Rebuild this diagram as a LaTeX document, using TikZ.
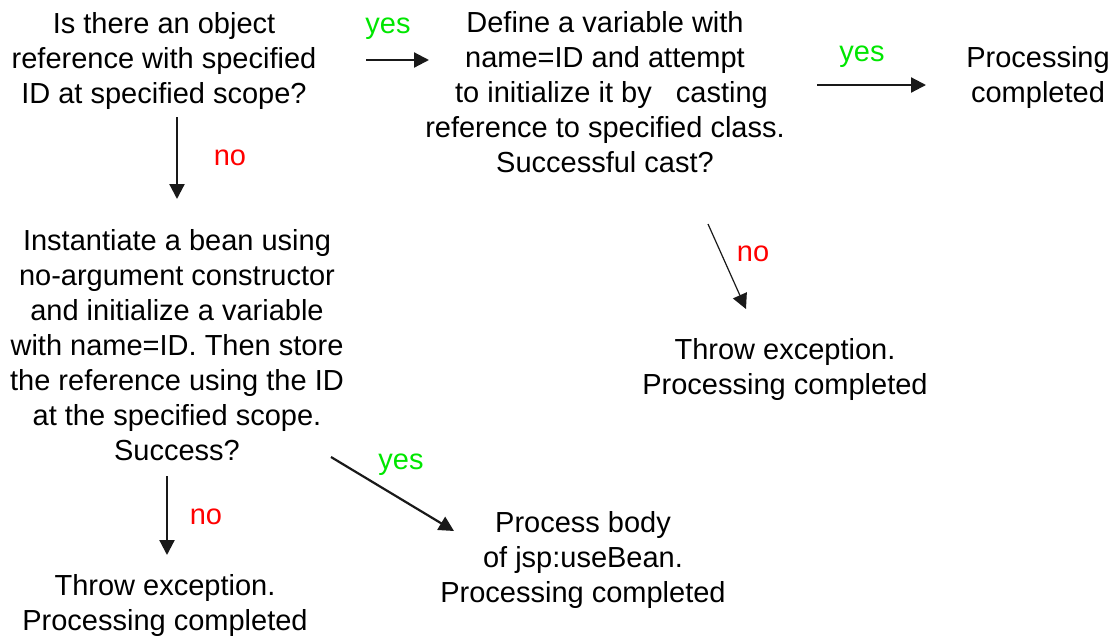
\documentclass[tikz,border=0pt]{standalone}
\usepackage{fontspec}
\setmainfont{Liberation Sans}
\usetikzlibrary{arrows.meta}
\definecolor{yescol}{RGB}{0,230,0}
\definecolor{nocol}{RGB}{255,0,0}
\begin{document}
\begin{tikzpicture}[x=1pt,y=-1pt,
  txt/.style={align=center,anchor=base,inner sep=0pt,font=\fontsize{29}{35}\selectfont},
  lbl/.style={anchor=base,inner sep=0pt,font=\fontsize{29}{35}\selectfont},
  yeslbl/.style={lbl,text=yescol},
  nolbl/.style={lbl,text=nocol},
  tip/.style={-{Triangle[length=15pt,width=15pt]}},
  arr/.style={draw=black!90,line width=2.2pt,tip}]
\useasboundingbox (0,0) rectangle (1115,635);

% decision and result texts (placed at the baseline of their last line)
\node[txt] (A) at (164,103) {Is there an object\\reference with specified\\ID at specified scope?};
\node[txt] (B) at (605,172) {Define a variable with\\name=ID and attempt\\\hspace*{13pt}to initialize it by\ \ \ casting\\reference to specified class.\hspace*{10pt}\\Successful cast?};
\node[txt] (C) at (1038,102) {Processing\\completed};
\node[txt] (D) at (177,460) {Instantiate a bean using\\no-argument constructor\\and initialize a variable\\with name=ID. Then store\\the reference using the ID\\at the specified scope.\\Success?};
\node[txt] (E) at (785,394) {Throw exception.\\Processing completed};
\node[txt] (F) at (583,602) {Process body\\of jsp:useBean.\\Processing completed};
\node[txt] (G) at (165,630) {Throw exception.\\Processing completed};

% connector end points
\coordinate (ab1) at (366,60);  \coordinate (ab2) at (429,60);
\coordinate (bc1) at (817,85);  \coordinate (bc2) at (926,85);
\coordinate (ad1) at (177,117); \coordinate (ad2) at (177,199);
\coordinate (be1) at (708,224); \coordinate (be2) at (746,309);
\coordinate (df1) at (331,457); \coordinate (df2) at (454,531);
\coordinate (dg1) at (167,476); \coordinate (dg2) at (167,555);

% connectors
\draw[arr] (ab1) -- (ab2);
\draw[arr] (bc1) -- (bc2);
\draw[arr] (ad1) -- (ad2);
\draw[arr,line width=1.2pt] (be1) -- (be2);
\draw[arr] (df1) -- (df2);
\draw[arr] (dg1) -- (dg2);

% branch labels
\node[yeslbl] (y1) at (388,33) {yes};
\node[yeslbl] (y2) at (862,61) {yes};
\node[yeslbl] (y3) at (401,469) {yes};
\node[nolbl] (n1) at (230,165) {no};
\node[nolbl] (n2) at (753,261) {no};
\node[nolbl] (n3) at (206,524) {no};
\end{tikzpicture}
\end{document}
